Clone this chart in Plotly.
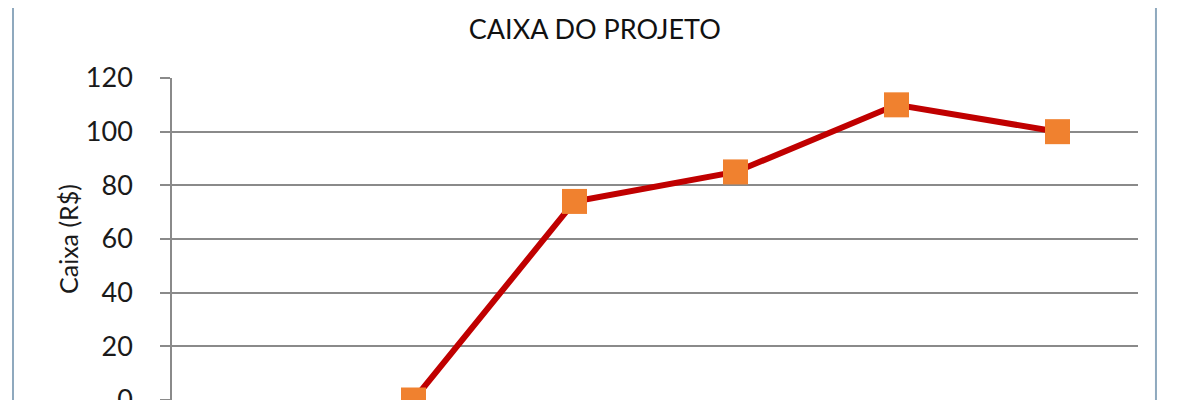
import plotly.graph_objects as go

# periodos do projeto (rotulos do eixo x ficam fora do recorte)
periodos = ["0", "1", "2", "3", "4", "5"]
caixa = [None, 0, 74, 85, 110, 100]
y_ticks = [0, 20, 40, 60, 80, 100, 120]

fig = go.Figure()
fig.add_trace(go.Scatter(
    x=periodos, y=caixa, mode="lines+markers",
    line=dict(color="#C00000", width=6),
    marker=dict(symbol="square", size=25, color="#F0812F", line=dict(width=0)),
    cliponaxis=False, showlegend=False))

# borda da area do grafico
borda = "#8FA9BE"
fig.add_shape(type="line", xref="paper", yref="paper", x0=-0.1646, x1=-0.1646, y0=-0.1, y1=1.3,
              line=dict(color=borda, width=2))
fig.add_shape(type="line", xref="paper", yref="paper", x0=1.0186, x1=1.0186, y0=-0.1, y1=1.3,
              line=dict(color=borda, width=2))

fig.update_layout(
    width=1200, height=400,
    margin=dict(l=164, r=70, t=70, b=8),
    paper_bgcolor="white", plot_bgcolor="white",
    font=dict(family="Lato, Open Sans, sans-serif", color="#1a1a1a"),
    title=dict(text="CAIXA DO PROJETO", x=0.489, xanchor="center", y=0.945, yanchor="middle",
               font=dict(size=27, color="#111111")),
    xaxis=dict(type="category", range=[-0.5, 5.5], showticklabels=False, showgrid=False,
               zeroline=False, showline=False, ticks="", automargin=False),
    yaxis=dict(range=[0, 120], tickvals=y_ticks, tickfont=dict(size=27),
               showgrid=True, gridcolor="#8A8A8A", gridwidth=1.5, zeroline=False,
               showline=True, linecolor="#8A8A8A", linewidth=1.5,
               ticks="outside", ticklen=10, tickcolor="#8A8A8A", tickwidth=1.5,
               ticklabelstandoff=22, ticklabeloverflow="allow", automargin=False,
               title=dict(text="Caixa (R$)", font=dict(size=25), standoff=0)),
)

fig.write_html("out.html")
